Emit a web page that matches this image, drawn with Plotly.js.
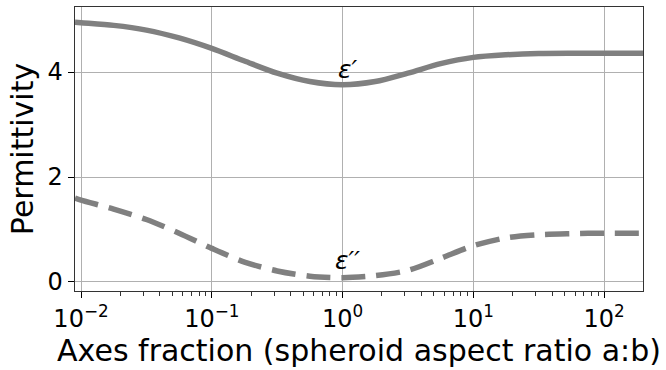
<!DOCTYPE html>
<html>
<head>
<meta charset="utf-8">
<script src="https://cdn.plot.ly/plotly-3.0.1.min.js"></script>
<style>html,body{margin:0;padding:0;background:#fff;}#chart{width:666px;height:370px;}</style>
</head>
<body>
<div id="chart"></div>
<script>
// log10 of axes fraction (spheroid aspect ratio a:b)
const logRatio = [-2.046, -2.0, -1.75, -1.5, -1.25, -1.0, -0.75, -0.5, -0.25, 0.0, 0.25, 0.5, 0.75, 1.0, 1.25, 1.5, 1.75, 2.0, 2.3];
const epsReal = [4.95, 4.94, 4.89, 4.80, 4.65, 4.45, 4.21, 3.98, 3.82, 3.76, 3.82, 3.98, 4.16, 4.28, 4.33, 4.355, 4.36, 4.36, 4.36];
const epsImag = [1.60, 1.56, 1.39, 1.19, 0.93, 0.64, 0.38, 0.21, 0.11, 0.08, 0.12, 0.22, 0.45, 0.69, 0.84, 0.90, 0.92, 0.93, 0.93];
const xTickVals = [0.01, 0.1, 1, 10, 100];
const xTickText = ['10<sup>−2</sup>', '10<sup>−1</sup>', '10<sup>0</sup>', '10<sup>1</sup>', '10<sup>2</sup>'];
const yTickVals = [0, 2, 4];

const ratio = logRatio.map(v => Math.pow(10, v));
const font = 'DejaVu Sans, sans-serif';

// minor tick positions 2..9 per decade (axis decoration)
const minorVals = [];
[0.01, 0.1, 1, 10, 100].forEach(d => { for (let k = 2; k <= 9; k++) minorVals.push(k * d); });

const traces = [
  {x: ratio, y: epsReal, type: 'scatter', mode: 'lines', name: "ε′",
   line: {color: '#808080', width: 5.5, shape: 'spline', smoothing: 0.8}},
  {x: ratio, y: epsImag, type: 'scatter', mode: 'lines', name: "ε′′",
   line: {color: '#808080', width: 5.5, dash: '24px,11px', shape: 'spline', smoothing: 0.8}}
];

const layout = {
  width: 666, height: 370,
  margin: {l: 75, r: 23, t: 7, b: 79},
  paper_bgcolor: '#fff', plot_bgcolor: '#fff',
  showlegend: false,
  font: {family: font, color: '#000'},
  xaxis: {
    type: 'log', range: [-2.046, 2.298],
    tickmode: 'array', tickvals: xTickVals, ticktext: xTickText,
    ticks: 'outside', ticklen: 6, tickwidth: 1, tickcolor: '#000',
    tickfont: {family: font, size: 24, color: '#000'},
    showgrid: true, gridcolor: '#b0b0b0', gridwidth: 1,
    showline: true, linecolor: '#333', linewidth: 1.3, mirror: true,
    zeroline: false,
    minor: {tickmode: 'array', tickvals: minorVals, ticks: 'outside', ticklen: 3.5, tickwidth: 0.8, tickcolor: '#000', showgrid: false},
    title: {text: 'Axes fraction (spheroid aspect ratio a:b)', font: {family: font, size: 30, color: '#000'}, standoff: 5},
    automargin: false
  },
  yaxis: {
    range: [-0.172, 5.24],
    tickmode: 'array', tickvals: yTickVals,
    ticks: 'outside', ticklen: 6, tickwidth: 1, tickcolor: '#000',
    tickfont: {family: font, size: 24, color: '#000'},
    showgrid: true, gridcolor: '#b0b0b0', gridwidth: 1,
    showline: true, linecolor: '#333', linewidth: 1.3, mirror: true,
    zeroline: false,
    title: {text: 'Permittivity', font: {family: font, size: 30, color: '#000'}, standoff: 5},
    automargin: false
  },
  annotations: [
    {x: 0.04, y: 4.04, xref: 'x', yref: 'y', text: '<i>ε′</i>', showarrow: false,
     font: {family: font, size: 25, color: '#000'}, xanchor: 'center', yanchor: 'middle'},
    {x: 0.04, y: 0.41, xref: 'x', yref: 'y', text: '<i>ε′′</i>', showarrow: false,
     font: {family: font, size: 25, color: '#000'}, xanchor: 'center', yanchor: 'middle'}
  ]
};

Plotly.newPlot('chart', traces, layout, {staticPlot: true, displayModeBar: false});
</script>
</body>
</html>
